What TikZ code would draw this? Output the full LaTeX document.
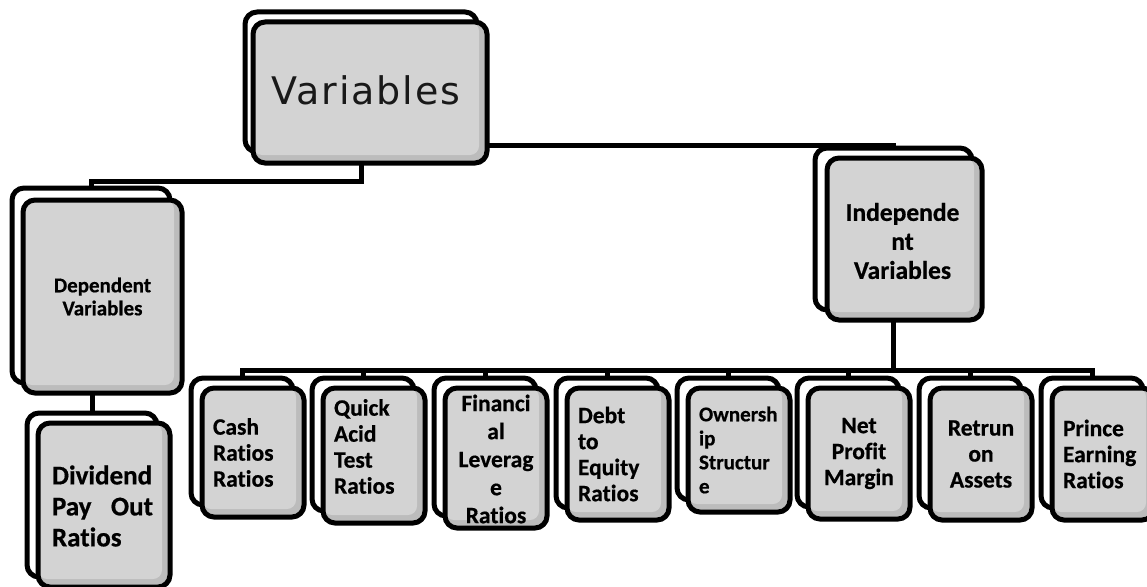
\documentclass[tikz,border=0pt]{standalone}
\usepackage{fontspec}
\setmainfont{Carlito}[Ligatures=NoCommon, BoldFeatures={FakeBold=0.6}]
\newfontfamily\verd[LetterSpace=5]{DejaVu Sans}
\usetikzlibrary{calc,backgrounds}
\definecolor{boxgray}{HTML}{D3D3D3}
\definecolor{bandgray}{HTML}{BCBCBC}
\begin{document}
\begin{tikzpicture}[x=1pt,y=-1pt,
  backbox/.style={rectangle, draw, line width=5pt, fill=white, rounded corners=12pt, inner sep=0pt},
  frontbox/.style={rectangle, draw, line width=5pt, fill=bandgray, rounded corners=12pt, inner sep=0pt,
    path picture={\fill[boxgray, rounded corners=9pt] (path picture bounding box.north west) rectangle ([xshift=-8pt,yshift=8pt]path picture bounding box.south east);}},
  sz/.style 2 args={minimum width=#1pt, minimum height=#2pt},
  conn/.style={line width=5pt, line cap=rect},
  lbl/.style={inner sep=0pt, text=black},
  ctext/.style={lbl, font=\bfseries\fontsize{23.5}{26}\selectfont, text width=80pt}]
\useasboundingbox (0,0) rectangle (1147,586);

% top level
\node[backbox, sz={232}{140}] (varB) at (361,82) {};
\node[frontbox, sz={234}{141}] (var) at (370,92.5) {};
\node[lbl, font=\verd\fontsize{38}{42}\selectfont, text=black!90] (varT) at ([xshift=-4pt,yshift=2pt]var.center) {Variables};

% dependent
\node[backbox, sz={158}{195}] (depB) at (91,285.5) {};
\node[frontbox, sz={159}{193}] (dep) at (102.5,296.5) {};
\node[lbl, font=\bfseries\fontsize{21}{23}\selectfont, align=center] (depT) at (dep.center) {Dependent\\Variables};

\node[backbox, sz={130}{164}] (divB) at (92,495) {};
\node[frontbox, sz={132}{164}] (div) at (104,505) {};
\node[lbl, font=\bfseries\fontsize{27}{31}\selectfont, text width=101pt, align=left] (divT) at ([xshift=-1.5pt,yshift=-1pt]div.center) {Dividend\\Pay\hfill Out\\Ratios};

% independent
\node[backbox, sz={157}{162}] (indB) at (893.5,229) {};
\node[frontbox, sz={155}{162}] (ind) at (904.5,239) {};
\node[lbl, font=\bfseries\fontsize{25.5}{29}\selectfont, align=center] (indT) at ([xshift=-2pt,yshift=-2pt]ind.center) {Independe\\nt\\Variables};

% children
\foreach \n/\c/\b in {cash/242/517, quick/363/523, fin/485/528, debt/607/520, own/728/512, net/848/519, ret/970/520, pri/1092/520}{
  \pgfmathsetmacro{\bh}{\b-12-378}
  \pgfmathsetmacro{\by}{(378+\b-12)/2}
  \pgfmathsetmacro{\fh}{\b-388}
  \pgfmathsetmacro{\fy}{(388+\b)/2}
  \node[backbox, sz={102}{\bh}] (\n B) at (\c,\by) {};
  \node[frontbox, sz={102}{\fh}] (\n) at (\c+11,\fy) {};
}

\node[ctext, align=left] (cashT) at (cash.center) {Cash\\Ratios\\Ratios};
\node[ctext, align=left] (quickT) at ([yshift=9pt]quick.center) {Quick\\Acid\\Test\\Ratios};
\node[ctext, align=center, font=\bfseries\fontsize{23.5}{28}\selectfont] (finT) at ([yshift=-1pt]fin.center) {Financi\\al\\Leverag\\e\\Ratios};
\node[ctext, align=left] (debtT) at (debt.center) {Debt\\to\\Equity\\Ratios};
\node[ctext, align=left, font=\bfseries\fontsize{21}{24}\selectfont] (ownT) at (own.center) {Ownersh\\ip\\Structur\\e};
\node[ctext, align=center] (netT) at (net.center) {Net\\Profit\\Margin};
\node[ctext, align=center] (retT) at (ret.center) {Retrun\\on\\Assets};
\node[ctext, align=left] (priT) at (pri.center) {Prince\\Earning\\Ratios};

% connectors
\begin{scope}[on background layer]
  \coordinate (split) at (0,181);
  \coordinate (bus) at (0,370);
  \draw[conn] (varB.center) -- (varB.center |- split) -| (depB.north);
  \draw[conn] (varB.center) |- (indB.north);
  \draw[conn] (dep.center -| divB.north) -- (divB.north);
  \draw[conn] (indB.center) -- (indB.center |- bus);
  \draw[conn] (cashB.north |- bus) -- (priB.north |- bus);
  \foreach \n in {cash,quick,fin,debt,own,net,ret,pri}{
    \draw[conn] (\n B.north |- bus) -- (\n B.north);
  }
\end{scope}
\end{tikzpicture}
\end{document}
